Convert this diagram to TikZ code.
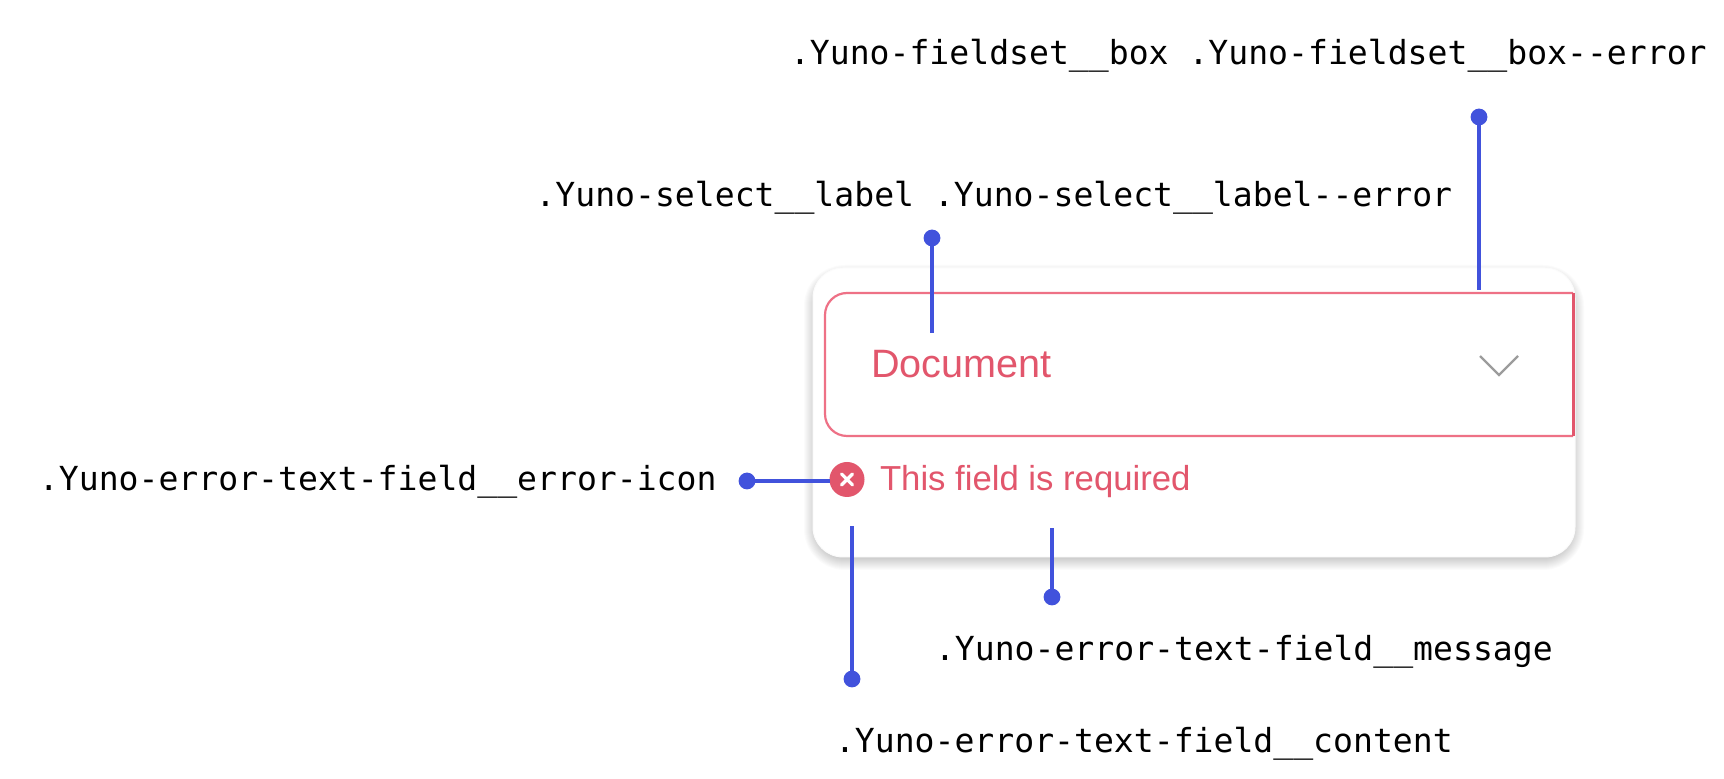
\documentclass[tikz,border=0pt]{standalone}
\usepackage{fontspec}
\newfontfamily\labelfont{DejaVu Sans Mono}
\newfontfamily\uifont{Liberation Sans}
\definecolor{linkblue}{HTML}{4152DC}
\definecolor{errred}{HTML}{E2566C}
\definecolor{errline}{HTML}{EE7186}
\definecolor{chev}{HTML}{9C9C9C}
\tikzset{
  classlabel/.style={anchor=base west,inner sep=0pt,outer sep=0pt,text=black,font=\labelfont\fontsize{16.55pt}{20pt}\selectfont},
  uitext/.style={anchor=base west,inner sep=0pt,outer sep=0pt,text=errred},
  pin/.style={circle,fill=linkblue,draw=none,minimum size=8.4pt,inner sep=0pt,outer sep=0pt},
  connector/.style={draw=linkblue,line width=1.6pt},
  fieldline/.style={draw=errline,line width=1.1pt}
}
\begin{document}
\begin{tikzpicture}[x=0.5pt,y=-0.5pt]
\useasboundingbox (0,0) rectangle (1724,779);
\fill[white] (0,0) rectangle (1724,779);
% card shadow
\foreach \i in {1,...,12}{
  \pgfmathsetmacro{\g}{12-\i}
  \fill[black,fill opacity=0.016,rounded corners={(30+\g)*0.5pt}]
    (815-\g,272-\g+4) rectangle (1573+\g,552+\g+7);
}
% card
\fill[white,draw=black!1.5,line width=0.5pt,rounded corners=15pt] (813,268) rectangle (1575,557);
% field box
\draw[fieldline] (1573,293) [rounded corners=11pt] -- (825,293) -- (825,436) [sharp corners] -- (1573,436);
\draw[draw=errred,line width=1.5pt] (1573,293) -- (1573,436);
% chevron
\draw[draw=chev,line width=1.2pt] (1480,356) -- (1499,375) -- (1518,356);
% texts in the card
\node[uitext,font=\uifont\fontsize{19.8pt}{24pt}\selectfont] (doc) at (871,377.5) {Document};
\node[uitext,font=\uifont\fontsize{17.35pt}{21pt}\selectfont] (msg) at (880,491) {This field is required};
% icon
\node[circle,fill=errred,draw=none,minimum size=17.5pt,inner sep=0pt,outer sep=0pt] (icon) at (847,479.5) {};
\draw[white,line width=1.6pt,line cap=round] (841.5,474) -- (852.5,485) (841.5,485) -- (852.5,474);
% class labels
\node[classlabel] (l1) at (790,65) {.Yuno-fieldset\_\_box .Yuno-fieldset\_\_box-{}-error};
\node[classlabel] (l2) at (535.5,207) {.Yuno-select\_\_label .Yuno-select\_\_label-{}-error};
\node[classlabel] (l3) at (39,491) {.Yuno-error-text-field\_\_error-icon};
\node[classlabel] (l4) at (935,661) {.Yuno-error-text-field\_\_message};
\node[classlabel] (l5) at (835,753) {.Yuno-error-text-field\_\_content};
% pins and connector ends
\node[pin] (p1) at (1479,117) {};
\node[pin] (p2) at (932,238) {};
\node[pin] (p3) at (747,481) {};
\node[pin] (p4) at (852,679) {};
\node[pin] (p5) at (1052,597) {};
\coordinate (e1) at (1479,290);
\coordinate (e2) at (932,333);
\coordinate (e4) at (852,526);
\coordinate (e5) at (1052,528);
\draw[connector] (p1.center) -- (e1);
\draw[connector] (p2.center) -- (e2);
\draw[connector] (p3.center) -- (p3.center -| icon.west);
\draw[connector] (p4.center) -- (e4);
\draw[connector] (p5.center) -- (e5);
\end{tikzpicture}
\end{document}
